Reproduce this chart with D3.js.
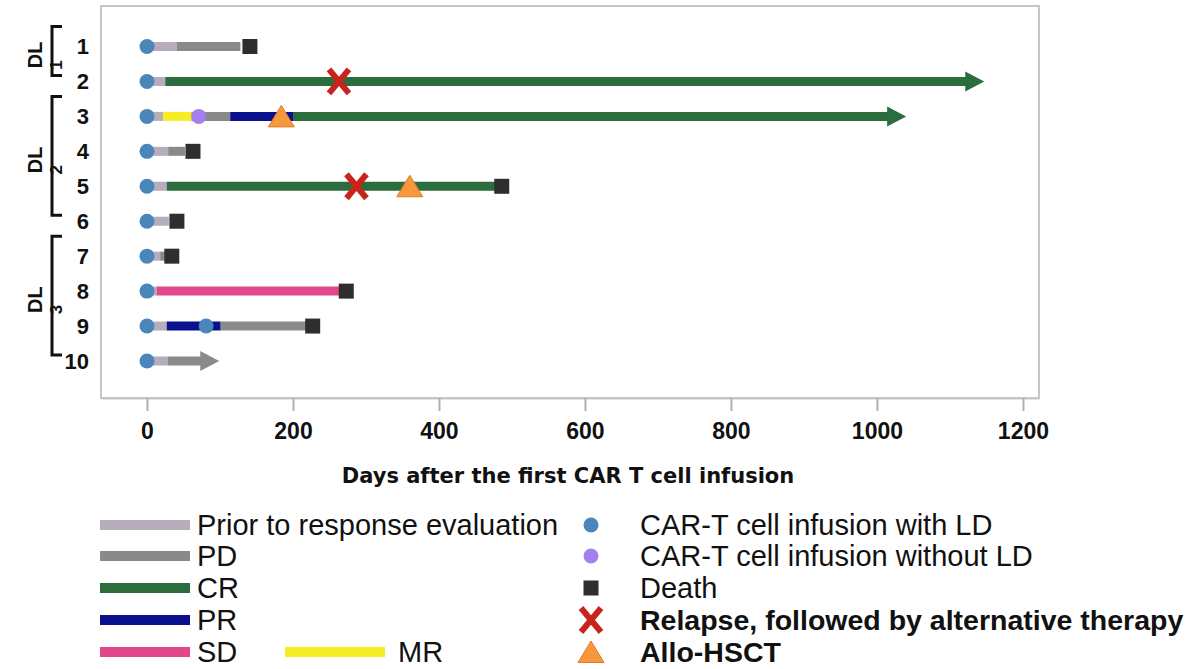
<!DOCTYPE html>
<html>
<head>
<meta charset="utf-8">
<script src="https://cdn.jsdelivr.net/npm/d3@7"></script>
<style>
  body { margin: 0; background: #fff; }
  text { font-family: "Liberation Sans", Arial, sans-serif; fill: #111; }
</style>
</head>
<body>
<div id="chart"></div>
<script>
// Data
var patients = ["1", "2", "3", "4", "5", "6", "7", "8", "9", "10"];
var priorEnd = [41, 25, 22, 29, 27, 30, 18, 13, 27, 28];   // "prior to response evaluation" runs from day 0
var segPatient = ["1", "2", "3", "3", "3", "3", "4", "5", "7", "8", "9", "9", "10"];
var segState   = ["PD", "CR", "MR", "PD", "PR", "CR", "PD", "CR", "PD", "SD", "PR", "PD", "PD"];
var segStart   = [41, 25, 22, 61, 114, 200, 29, 27, 18, 13, 27, 101, 28];
var segEnd     = [128, 1147, 61, 114, 200, 1040, 52, 486, 30, 273, 101, 227, 99];
var ongoing    = ["2", "3", "10"];   // last segment ends in an arrow

var infusionLD = [["1", 0], ["2", 0], ["3", 0], ["4", 0], ["5", 0], ["6", 0], ["7", 0], ["8", 0], ["9", 0], ["10", 0], ["9", 81]];
var infusionNoLD = [["3", 71]];
var deaths = [["1", 141], ["4", 63], ["5", 486], ["6", 41], ["7", 34], ["8", 273], ["9", 227]];
var relapses = [["2", 263], ["5", 287]];
var hsct = [["3", 184], ["5", 360]];

var doseLevels = ["1", "2", "3"];
var doseFirst = ["1", "3", "7"];
var doseLast = ["2", "6", "10"];

var xTicks = [0, 200, 400, 600, 800, 1000, 1200];

var states = ["prior", "PD", "CR", "PR", "SD", "MR"];
var stateLabels = ["Prior to response evaluation", "PD", "CR", "PR", "SD", "MR"];
var stateColors = ["#b5adbb", "#8a8a8a", "#2b6d3c", "#0b108c", "#e2468b", "#f6ee22"];

var markerLabels = ["CAR-T cell infusion with LD", "CAR-T cell infusion without LD", "Death",
    "Relapse, followed by alternative therapy", "Allo-HSCT"];

// SVG area
var svgWidth = 1201;
var svgHeight = 669;
var chartMargin = { top: 6, right: 162, bottom: 271, left: 101 };
var width = svgWidth - chartMargin.left - chartMargin.right;
var height = svgHeight - chartMargin.top - chartMargin.bottom;

var svg = d3.select("#chart")
    .append("svg")
    .attr("width", svgWidth)
    .attr("height", svgHeight);

var chartGroup = svg.append("g")
    .attr("transform", `translate(${chartMargin.left}, ${chartMargin.top})`);

// Scales
var xScale = d3.scaleLinear()
    .domain([-63, 1222])
    .range([0, width]);
var yScale = d3.scalePoint()
    .domain(patients)
    .range([40.5, 355]);
var color = d3.scaleOrdinal().domain(states).range(stateColors);

// Frame
chartGroup.append("rect")
    .attr("width", width)
    .attr("height", height)
    .attr("fill", "none")
    .attr("stroke", "#c6c6c6")
    .attr("stroke-width", 2);

// X axis
var xAxis = d3.axisBottom(xScale)
    .tickValues(xTicks)
    .tickFormat(d3.format("d"))
    .tickSize(13)
    .tickSizeOuter(0)
    .tickPadding(12);
var axisG = chartGroup.append("g")
    .attr("transform", `translate(0, ${height})`)
    .call(xAxis);
axisG.select(".domain").attr("stroke", "#c6c6c6").attr("stroke-width", 2);
axisG.selectAll(".tick line").attr("stroke", "#b0b0b0").attr("stroke-width", 2);
axisG.selectAll(".tick text")
    .style("font-family", "'Liberation Sans', Arial, sans-serif")
    .style("font-size", "23px")
    .style("font-weight", "bold")
    .attr("fill", "#151515");

svg.append("text")
    .attr("x", 568)
    .attr("y", 483)
    .attr("text-anchor", "middle")
    .style("font-family", "'DejaVu Sans', sans-serif")
    .style("font-size", "21px")
    .style("font-weight", "bold")
    .text("Days after the first CAR T cell infusion");

// Row labels
chartGroup.selectAll(".rowLabel")
    .data(patients)
    .enter()
    .append("text")
    .attr("class", "rowLabel")
    .attr("x", -12)
    .attr("y", d => yScale(d))
    .attr("dy", "0.36em")
    .attr("text-anchor", "end")
    .style("font-size", "22px")
    .style("font-weight", "bold")
    .text(d => d);

// Dose level brackets
var lineW = 9;
var arrowLen = 18;
doseLevels.forEach(function(dl, i) {
    var top = yScale(doseFirst[i]) - 20;
    var bot = yScale(doseLast[i]) - 6;
    var bx = -49;
    chartGroup.append("path")
        .attr("d", `M${bx + 10},${top} H${bx} V${bot} H${bx + 10}`)
        .attr("fill", "none")
        .attr("stroke", "#111")
        .attr("stroke-width", 3);
    var mid = (top + bot) / 2;
    chartGroup.append("text")
        .attr("transform", `translate(${bx - 10}, ${mid + 4}) rotate(-90)`)
        .attr("text-anchor", "middle")
        .style("font-size", "20px")
        .style("font-weight", "bold")
        .text("DL");
    chartGroup.append("text")
        .attr("transform", `translate(${bx + 10}, ${mid + 14}) rotate(-90)`)
        .attr("text-anchor", "middle")
        .style("font-size", "17px")
        .style("font-weight", "bold")
        .text(dl);
});

// Response segments
var segments = patients.map(function(p, i) {
    return { patient: p, state: "prior", start: 0, end: priorEnd[i], arrow: false };
});
segPatient.forEach(function(p, i) {
    var isLast = segPatient.lastIndexOf(p) === i;
    segments.push({
        patient: p, state: segState[i], start: segStart[i], end: segEnd[i],
        arrow: isLast && ongoing.indexOf(p) >= 0
    });
});

chartGroup.selectAll(".seg")
    .data(segments)
    .enter()
    .append("line")
    .attr("class", "seg")
    .attr("x1", d => xScale(d.start))
    .attr("x2", d => d.arrow ? xScale(d.end) - arrowLen : xScale(d.end))
    .attr("y1", d => yScale(d.patient))
    .attr("y2", d => yScale(d.patient))
    .attr("stroke", d => color(d.state))
    .attr("stroke-width", lineW);

chartGroup.selectAll(".arrowHead")
    .data(segments.filter(d => d.arrow))
    .enter()
    .append("path")
    .attr("class", "arrowHead")
    .attr("d", function(d) {
        var tx = xScale(d.end), cy = yScale(d.patient);
        return `M${tx - arrowLen - 1},${cy - 10} L${tx},${cy} L${tx - arrowLen - 1},${cy + 10} Z`;
    })
    .attr("fill", d => color(d.state));

// Marker shapes
var xPath = "M-10,-12 L10,12 M10,-12 L-10,12";
var triPath = "M0,-11 L13,10.5 L-13,10.5 Z";

function drawCircle(g, x, y, fill) {
    g.append("circle").attr("cx", x).attr("cy", y).attr("r", 7.5).attr("fill", fill);
}
function drawSquare(g, x, y) {
    g.append("rect").attr("x", x - 7.5).attr("y", y - 7.5).attr("width", 15).attr("height", 15)
        .attr("fill", "#2e2e2e");
}
function drawX(g, x, y) {
    g.append("path").attr("d", xPath).attr("transform", `translate(${x},${y})`)
        .attr("stroke", "#c8241b").attr("stroke-width", 6).attr("fill", "none");
}
function drawTri(g, x, y) {
    g.append("path").attr("d", triPath).attr("transform", `translate(${x},${y})`)
        .attr("fill", "#f7983f").attr("stroke", "#e07c28").attr("stroke-width", 1);
}

infusionLD.forEach(d => drawCircle(chartGroup, xScale(d[1]), yScale(d[0]), "#4a86ba"));
infusionNoLD.forEach(d => drawCircle(chartGroup, xScale(d[1]), yScale(d[0]), "#a47ff0"));
deaths.forEach(d => drawSquare(chartGroup, xScale(d[1]), yScale(d[0])));
relapses.forEach(d => drawX(chartGroup, xScale(d[1]), yScale(d[0])));
hsct.forEach(d => drawTri(chartGroup, xScale(d[1]), yScale(d[0])));

// Legend
var legendRows = [525, 556, 588, 620, 652];
var legend = svg.append("g");
var lineStates = ["prior", "PD", "CR", "PR", "SD"];
lineStates.forEach(function(s, i) {
    legend.append("line")
        .attr("x1", 100).attr("x2", 190)
        .attr("y1", legendRows[i]).attr("y2", legendRows[i])
        .attr("stroke", color(s))
        .attr("stroke-width", 10);
    legend.append("text")
        .attr("x", 197).attr("y", legendRows[i]).attr("dy", "0.36em")
        .style("font-size", "29px")
        .text(stateLabels[states.indexOf(s)]);
});
legend.append("line")
    .attr("x1", 285).attr("x2", 385)
    .attr("y1", legendRows[4]).attr("y2", legendRows[4])
    .attr("stroke", color("MR"))
    .attr("stroke-width", 10);
legend.append("text")
    .attr("x", 398).attr("y", legendRows[4]).attr("dy", "0.36em")
    .style("font-size", "29px")
    .text(stateLabels[5]);

drawCircle(legend, 591, legendRows[0], "#4a86ba");
drawCircle(legend, 591, legendRows[1], "#a47ff0");
drawSquare(legend, 591, legendRows[2]);
drawX(legend, 591, legendRows[3]);
drawTri(legend, 591, legendRows[4]);

markerLabels.forEach(function(t, i) {
    legend.append("text")
        .attr("x", 640).attr("y", legendRows[i]).attr("dy", "0.36em")
        .style("font-size", i >= 3 ? "28.5px" : "29px")
        .style("font-weight", i >= 3 ? "bold" : "normal")
        .text(t);
});
</script>
</body>
</html>
